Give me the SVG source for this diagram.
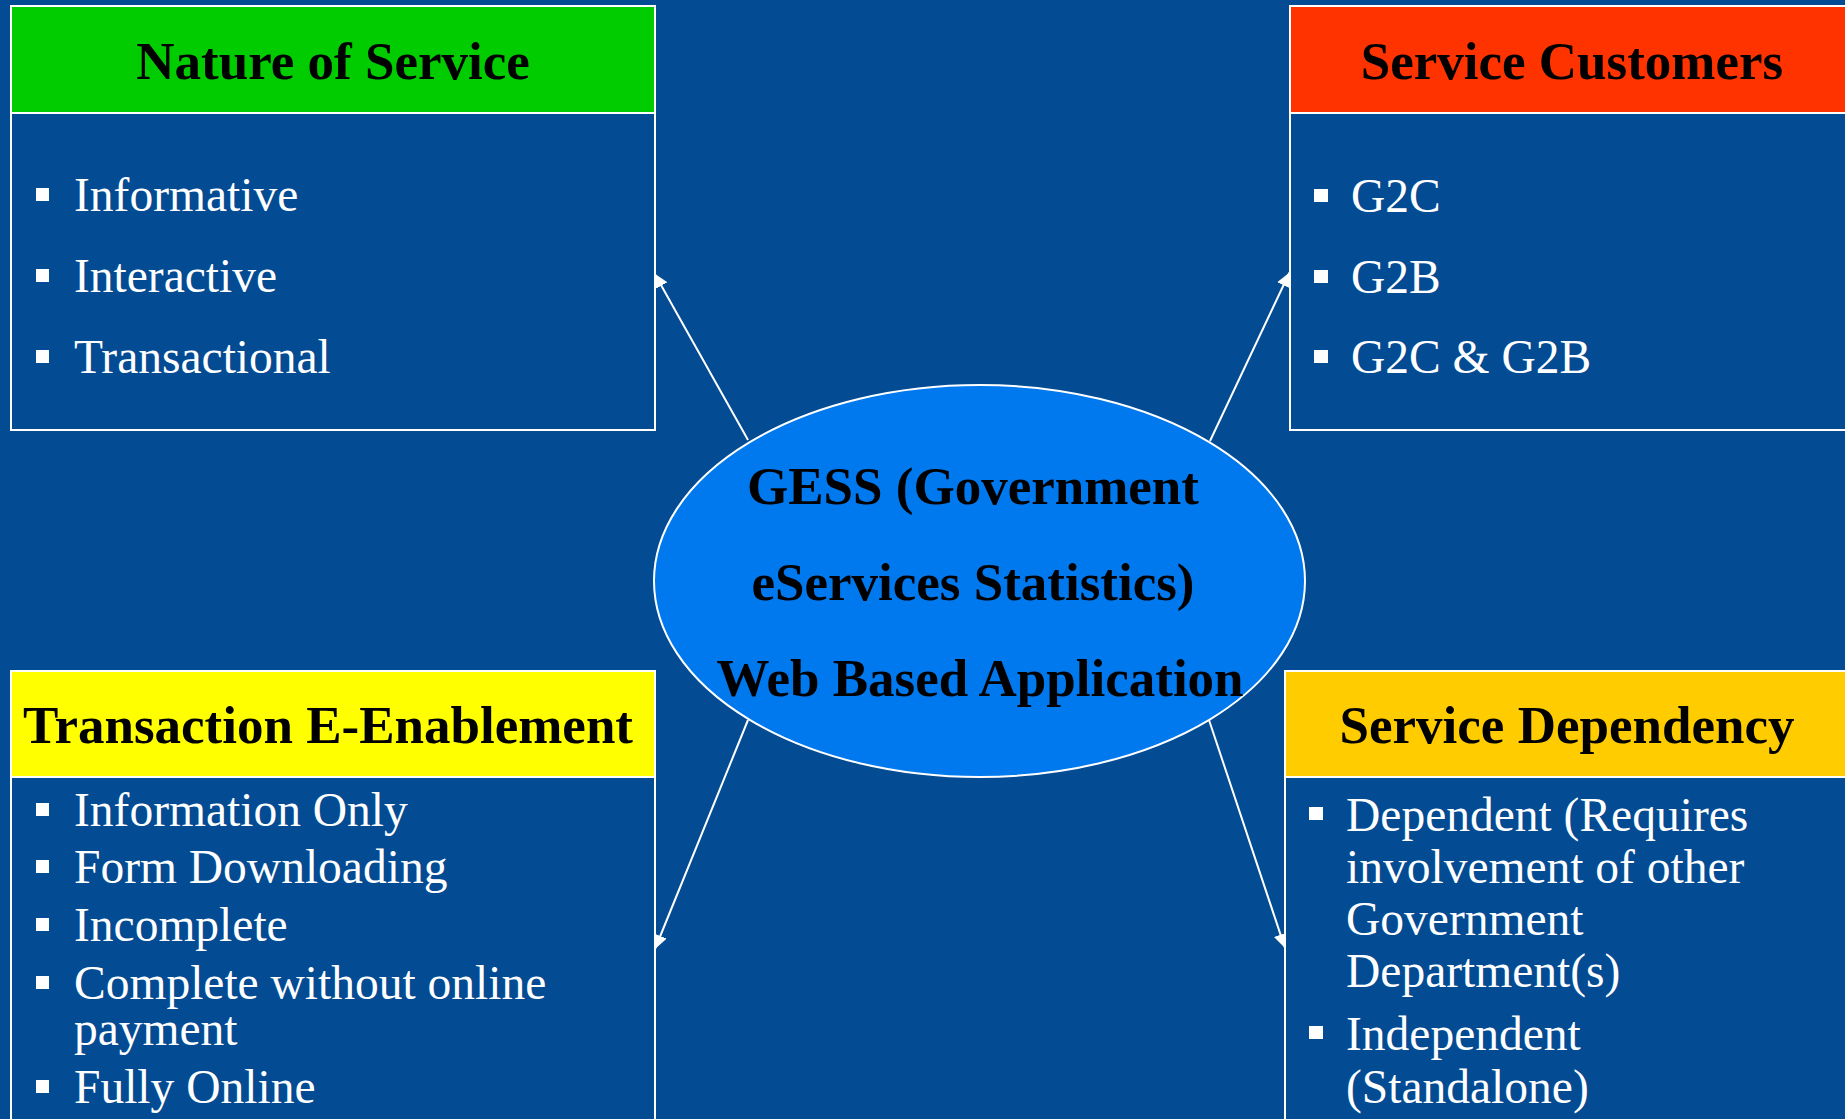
<svg xmlns="http://www.w3.org/2000/svg" width="1845" height="1119" viewBox="0 0 1845 1119">
  <style>
    .frame { fill: #034B93; stroke: #FFFFFF; stroke-width: 2; }
    .title { font-family: "Liberation Serif", "Times New Roman", serif; font-weight: bold; font-size: 53px; fill: #000000; text-anchor: middle; }
    .item { font-family: "Liberation Serif", "Times New Roman", serif; font-size: 47.5px; fill: #FFFFFF; }
    .bullet { fill: #FFFFFF; }
    .conn { stroke: #FFFFFF; stroke-width: 2; fill: none; marker-end: url(#arrow); }
  </style>
  <defs>
    <marker id="arrow" markerUnits="userSpaceOnUse" viewBox="0 0 14 14" markerWidth="14" markerHeight="14" refX="14" refY="7" orient="auto">
      <path d="M0,0 L14,7 L0,14 z" fill="#FFFFFF"/>
    </marker>
  </defs>
  <rect x="0" y="0" width="1845" height="1119" fill="#034B93"/>

  <g id="connectors">
    <line class="conn" x1="748" y1="440" x2="654.5" y2="273.5"/>
    <line class="conn" x1="1210" y1="441" x2="1289.5" y2="272.5"/>
    <line class="conn" x1="748" y1="720" x2="655" y2="949"/>
    <line class="conn" x1="1209" y1="720" x2="1285" y2="948"/>
  </g>

  <g id="nature-of-service">
    <rect class="frame" x="11" y="113" width="644" height="317"/>
    <rect x="11" y="6" width="644" height="107" fill="#00CC00" stroke="#FFFFFF" stroke-width="2"/>
    <text class="title" x="333" y="79">Nature of Service</text>
    <rect class="bullet" x="36" y="188" width="13" height="13"/>
    <text class="item" x="74" y="211">Informative</text>
    <rect class="bullet" x="36" y="269" width="13" height="13"/>
    <text class="item" x="74" y="292">Interactive</text>
    <rect class="bullet" x="36" y="350" width="13" height="13"/>
    <text class="item" x="74" y="373">Transactional</text>
  </g>

  <g id="service-customers">
    <rect class="frame" x="1290" y="113" width="580" height="317"/>
    <rect x="1290" y="6" width="580" height="107" fill="#FF3300" stroke="#FFFFFF" stroke-width="2"/>
    <text class="title" x="1572" y="79">Service Customers</text>
    <rect class="bullet" x="1314" y="189" width="14" height="13"/>
    <text class="item" x="1351" y="212">G2C</text>
    <rect class="bullet" x="1314" y="270" width="14" height="13"/>
    <text class="item" x="1351" y="293">G2B</text>
    <rect class="bullet" x="1314" y="350" width="14" height="13"/>
    <text class="item" x="1351" y="373">G2C &amp; G2B</text>
  </g>

  <g id="transaction-e-enablement">
    <rect class="frame" x="11" y="777" width="644" height="360"/>
    <rect x="11" y="671" width="644" height="106" fill="#FFFF00" stroke="#FFFFFF" stroke-width="2"/>
    <text class="title" x="328" y="743">Transaction E-Enablement</text>
    <rect class="bullet" x="36" y="803" width="13" height="13"/>
    <text class="item" x="74" y="826">Information Only</text>
    <rect class="bullet" x="36" y="860" width="13" height="13"/>
    <text class="item" x="74" y="883">Form Downloading</text>
    <rect class="bullet" x="36" y="918" width="13" height="13"/>
    <text class="item" x="74" y="941">Incomplete</text>
    <rect class="bullet" x="36" y="976" width="13" height="13"/>
    <text class="item" x="74" y="999">Complete without online</text>
    <text class="item" x="74" y="1045">payment</text>
    <rect class="bullet" x="36" y="1080" width="13" height="13"/>
    <text class="item" x="74" y="1103">Fully Online</text>
  </g>

  <g id="service-dependency">
    <rect class="frame" x="1285" y="777" width="585" height="360"/>
    <rect x="1285" y="671" width="585" height="106" fill="#FFCC00" stroke="#FFFFFF" stroke-width="2"/>
    <text class="title" x="1567" y="743">Service Dependency</text>
    <rect class="bullet" x="1309" y="807" width="14" height="13"/>
    <text class="item" x="1346" y="831">Dependent (Requires</text>
    <text class="item" x="1346" y="883">involvement of other</text>
    <text class="item" x="1346" y="935">Government</text>
    <text class="item" x="1346" y="987">Department(s)</text>
    <rect class="bullet" x="1309" y="1026" width="14" height="13"/>
    <text class="item" x="1346" y="1050">Independent</text>
    <text class="item" x="1346" y="1103">(Standalone)</text>
  </g>

  <g id="gess">
    <ellipse cx="979.5" cy="581" rx="325.5" ry="196" fill="#0078EE" stroke="#FFFFFF" stroke-width="2"/>
    <text class="title" x="973" y="504">GESS (Government</text>
    <text class="title" x="973" y="600">eServices Statistics)</text>
    <text class="title" x="980" y="696">Web Based Application</text>
  </g>
</svg>
